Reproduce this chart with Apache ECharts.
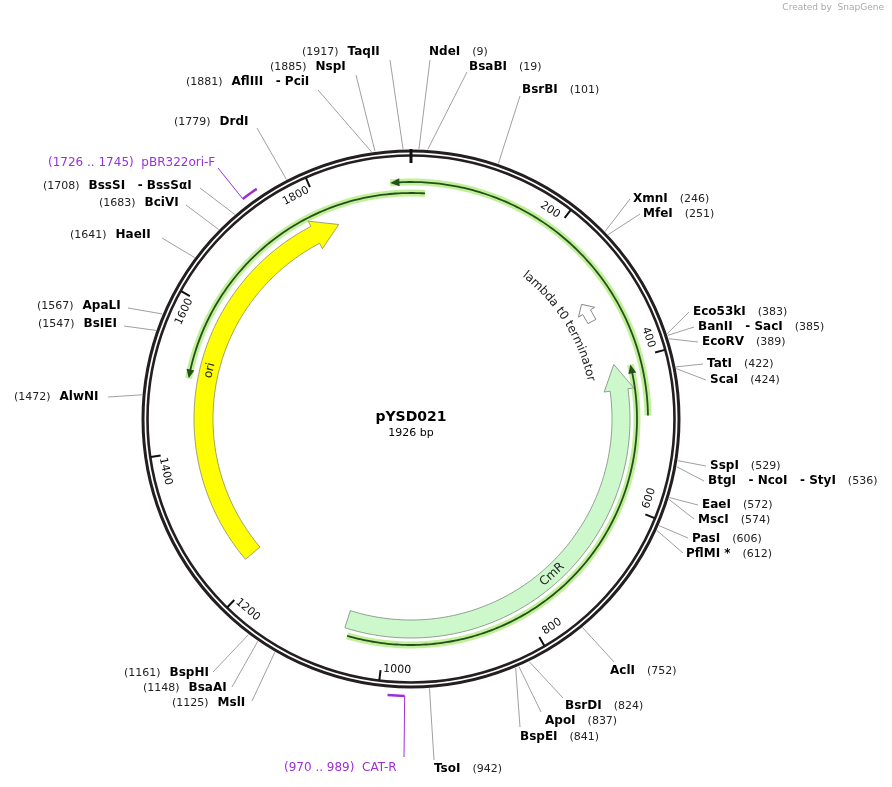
<!DOCTYPE html>
<html><head><meta charset="utf-8">
<script src="https://cdn.jsdelivr.net/npm/echarts@6/dist/echarts.min.js"></script>
<style>html,body{margin:0;padding:0;background:#fff}#c{width:892px;height:787px}</style>
</head><body><div id="c"></div>
<script>
const TOTAL = 1926;
const plasmidName = 'pYSD021';
const tickPositions = [200,400,600,800,1000,1200,1400,1600,1800];
// enzymes
const enzNames = ['TaqII','NspI','AflIII   - PciI','NdeI','BsaBI','BsrBI','DrdI','BssSI   - BssSαI','BciVI','HaeII','ApaLI','BsIEI','AlwNI','BspHI','BsaAI','MslI','TsoI','BspEI','ApoI','BsrDI','AclI','PflMI *','PasI','MscI','EaeI','BtgI   - NcoI   - StyI','SspI','ScaI','TatI','EcoRV','BanII   - SacI','Eco53kI','MfeI','XmnI'];
const enzPos = [1917,1885,1881,9,19,101,1779,1708,1683,1641,1567,1547,1472,1161,1148,1125,942,841,837,824,752,612,606,574,572,536,529,424,422,389,385,383,251,246];
// features
const featNames = ['ori','CmR','lambda t0 terminator'];
const featFrom = [1229,1057,330];
const featTo = [1817,401,300];
const orfFrom = [477,19,1051];
const orfTo = [-27,-426,407];
const primerNames = ['pBR322ori-F','CAT-R'];
const primerFrom = [1726,970];
const primerTo = [1745,989];

// layout (pixels): [textX, textY, side('L' pos first / 'R' name first), lineEndX, lineEndY]
const enzLayout = [
 [302,52,'L',390,60],[270,67,'L',356,75],[186,82,'L',318,90],[429,52,'R',430,60],[469,67,'R',467,72],[522,90,'R',520,96],
 [174,122,'L',257,128],[43,186,'L',200,188],[99,203,'L',186,205],[70,235,'L',162,238],[37,306,'L',128,308],[38,324,'L',124,326],
 [14,397,'L',108,397],[124,673,'L',213,672],[143,688,'L',232,687],[172,703,'L',252,701],[434,769,'R',434,760],[520,737,'R',520,727],
 [545,721,'R',541,712],[565,706,'R',563,698],[610,671,'R',614,662],[686,554,'R',683,553],[692,539,'R',688,538],[698,520,'R',694,519],
 [702,505,'R',698,505],[708,481,'R',704,481],[710,466,'R',706,466],[710,380,'R',706,380],[707,364,'R',703,364],[702,342,'R',698,342],
 [698,327,'R',694,327],[693,312,'R',689,312],[643,214,'R',640,214],[633,199,'R',630,199]];
const primerLayout = [[48,163,218,168],[284,768,404,757]];

const D2R = Math.PI/180;
function ang(bp){ return bp/TOTAL*360; }
function rotFor(bp){ let t = ((ang(bp)%360)+360)%360; return (t>90 && t<270) ? -(t-180)*D2R : -t*D2R; }
function arcPts(api, a, b, r, n){ const pts=[]; n=n||Math.max(4,Math.ceil(Math.abs(b-a)/4)); for(let i=0;i<=n;i++){ pts.push(api.coord([r, ((a+(b-a)*i/n)%TOTAL+TOTAL)%TOTAL])); } return pts; }
function fixAng(v){ return ((v%TOTAL)+TOTAL)%TOTAL; }
function arrowBand(api,a,b,r1,r2,headLen,hw){
  const dir = b>a?1:-1; const hb = b - dir*headLen; const rm=(r1+r2)/2;
  let pts = arcPts(api,a,hb,r2);
  pts.push(api.coord([r2+hw,fixAng(hb)])); pts.push(api.coord([rm,fixAng(b)])); pts.push(api.coord([r1-hw,fixAng(hb)]));
  pts = pts.concat(arcPts(api,hb,a,r1));
  return pts;
}
const mctx = document.createElement('canvas').getContext('2d'); mctx.font = '12px DejaVu Sans';

const chart = echarts.init(document.getElementById('c'));

const series = [];
series.push({type:'custom', coordinateSystem:'polar', silent:true, data:[[0,0]], z:5,
 renderItem:function(p,api){
   const c = api.coord([0,0]); const ch=[];
   const rr = r => Math.hypot(api.coord([r,0])[0]-c[0], api.coord([r,0])[1]-c[1]);
   ch.push({type:'circle',shape:{cx:c[0],cy:c[1],r:rr(268)},style:{fill:null,stroke:'#231f20',lineWidth:3}});
   ch.push({type:'circle',shape:{cx:c[0],cy:c[1],r:rr(263.5)},style:{fill:null,stroke:'#231f20',lineWidth:2.6}});
   const t0=api.coord([256,0]), t1=api.coord([270,0]);
   ch.push({type:'line',shape:{x1:t0[0],y1:t0[1],x2:t1[0],y2:t1[1]},style:{stroke:'#111',lineWidth:3}});
   tickPositions.forEach(tp=>{
     const a=api.coord([253,tp]), b=api.coord([263,tp]);
     ch.push({type:'line',shape:{x1:a[0],y1:a[1],x2:b[0],y2:b[1]},style:{stroke:'#111',lineWidth:2}});
     const q=api.coord([251,tp-20]);
     ch.push({type:'text',x:q[0],y:q[1],rotation:rotFor(tp-20),style:{text:String(tp),fill:'#111',font:'11px DejaVu Sans',align:'center',verticalAlign:'middle'}});
   });
   ch.push({type:'text',x:c[0],y:c[1]-2,style:{text:plasmidName,fill:'#000',font:'bold 14px DejaVu Sans',align:'center',verticalAlign:'middle'}});
   ch.push({type:'text',x:c[0],y:c[1]+14,style:{text:TOTAL+' bp',fill:'#000',font:'11px DejaVu Sans',align:'center',verticalAlign:'middle'}});
   return {type:'group',children:ch};
 }});
series.push({type:'custom', coordinateSystem:'polar', silent:true, z:3, data:featNames.map((n,i)=>[210,featFrom[i]]),
 renderItem:function(p,api){
   const i=p.dataIndex; const ch=[];
   if(i===0){
     ch.push({type:'polygon',shape:{points:arrowBand(api,featFrom[0],featTo[0],198,217,38,6)},style:{fill:'#ffff00',stroke:'#8a8a6a',lineWidth:0.8}});
     const q=api.coord([207,1517]); ch.push({type:'text',x:q[0],y:q[1],rotation:rotFor(1517),style:{text:'ori',fill:'#222',font:'12px DejaVu Sans',align:'center',verticalAlign:'middle'}});
   } else if(i===1){
     ch.push({type:'polygon',shape:{points:arrowBand(api,featFrom[1],featTo[1],201,219,38,6)},style:{fill:'#ccf8cc',stroke:'#7a8a7a',lineWidth:0.8}});
     const q=api.coord([210,737]); ch.push({type:'text',x:q[0],y:q[1],rotation:rotFor(737),style:{text:'CmR',fill:'#222',font:'12px DejaVu Sans',align:'center',verticalAlign:'middle'}});
   } else {
     ch.push({type:'polygon',shape:{points:arrowBand(api,featFrom[2],featTo[2],201,210,14,5)},style:{fill:'#fff',stroke:'#888',lineWidth:1}});
     const text='lambda t0 terminator'; const R=184, st=203;
     const pxPerBp = R*2*Math.PI/TOTAL; let acc=0;
     for(let k=0;k<text.length;k++){ const w=mctx.measureText(text[k]).width; const bp=st+(acc+w/2)/pxPerBp; acc+=w;
       const q=api.coord([R,bp]);
       ch.push({type:'text',x:q[0],y:q[1],rotation:-ang(bp)*D2R,style:{text:text[k],fill:'#222',font:'12px DejaVu Sans',align:'center',verticalAlign:'middle'}}); }
   }
   return {type:'group',children:ch};
 }});
series.push({type:'custom', coordinateSystem:'polar', silent:true, z:2, data:orfFrom.map((v,i)=>[230,fixAng(v)]),
 renderItem:function(p,api){
   const i=p.dataIndex; const r=[237,226,226][i]; const a=orfFrom[i], b=orfTo[i]; const dir=b>a?1:-1;
   const pts=arcPts(api,a,b,r); const ch=[];
   ch.push({type:'polyline',shape:{points:pts},style:{stroke:'#c2f09a',lineWidth:7,fill:null}});
   ch.push({type:'polyline',shape:{points:arcPts(api,a,b-dir*8,r)},style:{stroke:'#24501c',lineWidth:1.8,fill:null}});
   const hb=b-dir*12;
   ch.push({type:'polygon',shape:{points:[api.coord([r+4,fixAng(hb)]),api.coord([r,fixAng(b)]),api.coord([r-4,fixAng(hb)])]},style:{fill:'#24501c'}});
   return {type:'group',children:ch};
 }});
series.push({type:'custom', coordinateSystem:'polar', silent:true, z:4, data:primerNames.map((n,i)=>[276,primerFrom[i]]),
 renderItem:function(p,api){
   const i=p.dataIndex; const L=primerLayout[i]; const ch=[];
   ch.push({type:'polyline',shape:{points:arcPts(api,primerFrom[i],primerTo[i],277,4)},style:{stroke:'#9b30d9',lineWidth:2.5,fill:null}});
   const s=api.coord([277,primerFrom[i]]);
   ch.push({type:'line',shape:{x1:s[0],y1:s[1],x2:L[2],y2:L[3]},style:{stroke:'#9b30d9',lineWidth:1}});
   ch.push({type:'text',x:L[0],y:L[1],style:{text:'('+primerFrom[i]+' .. '+primerTo[i]+')  '+primerNames[i],fill:'#9b30d9',font:'12px DejaVu Sans',align:'left',verticalAlign:'middle'}});
   return {type:'group',children:ch};
 }});
series.push({type:'custom', coordinateSystem:'polar', silent:true, z:4, data:enzPos.map(v=>[270,v]),
 renderItem:function(p,api){
   const i=p.dataIndex; const L=enzLayout[i]; const s=api.coord([270,enzPos[i]]);
   const txt = L[2]==='R' ? '{n|'+enzNames[i]+'}{s| }{p|('+enzPos[i]+')}' : '{p|('+enzPos[i]+')}{t| }{n|'+enzNames[i]+'}';
   return {type:'group',children:[
     {type:'line',shape:{x1:s[0],y1:s[1],x2:L[3],y2:L[4]},style:{stroke:'#888',lineWidth:0.8}},
     {type:'text',x:L[0],y:L[1],style:{text:txt,align:'left',verticalAlign:'middle',rich:{
        n:{fontFamily:'DejaVu Sans',fontSize:12,fontWeight:'bold',fill:'#000',color:'#000'},
        p:{fontFamily:'DejaVu Sans',fontSize:11,fill:'#222',color:'#222'},
        s:{width:12,fontSize:11},t:{width:9,fontSize:11}}}}
   ]};
 }});

chart.setOption({
  animation:false,
  polar:{center:[411,419],radius:300},
  angleAxis:{type:'value',min:0,max:TOTAL,startAngle:90,clockwise:true,show:false},
  radiusAxis:{type:'value',min:0,max:300,show:false},
  graphic:[{type:'text',right:8,top:3,style:{text:'Created by  SnapGene',fill:'#aaa',font:'9px DejaVu Sans'}}],
  series:series
});
</script></body></html>
